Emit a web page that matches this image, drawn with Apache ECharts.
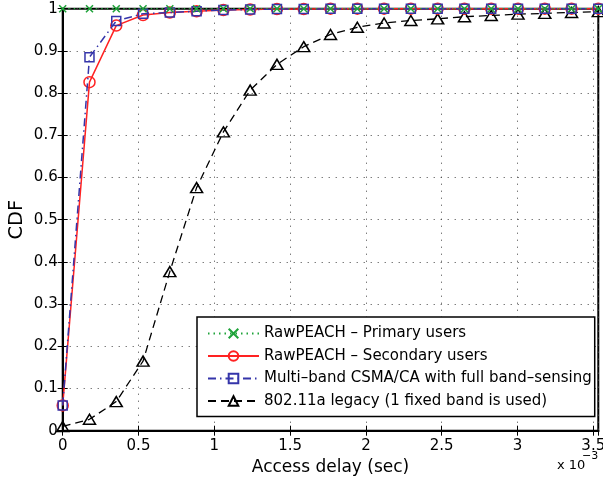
<!DOCTYPE html>
<html>
<head>
<meta charset="utf-8">
<script src="https://cdn.jsdelivr.net/npm/echarts@6/dist/echarts.min.js"></script>
<style>html,body{margin:0;padding:0;background:#fff}#c{width:603px;height:484px}</style>
</head>
<body>
<div id="c"></div>
<script>
// Access delay in units of 1e-3 sec
var xValues = [0, 0.1767, 0.3533, 0.53, 0.7066, 0.8833, 1.06, 1.2366, 1.4133, 1.59, 1.7666, 1.9433, 2.12, 2.2966, 2.4733, 2.65, 2.8266, 3.0033, 3.18, 3.3566, 3.533];
var primaryCDF = [1, 1, 1, 1, 1, 1, 1, 1, 1, 1, 1, 1, 1, 1, 1, 1, 1, 1, 1, 1, 1];
var secondaryCDF = [0.06, 0.826, 0.96, 0.985, 0.991, 0.994, 0.997, 0.998, 0.999, 0.999, 1, 1, 1, 1, 1, 1, 1, 1, 1, 1, 1];
var multibandCDF = [0.06, 0.885, 0.971, 0.988, 0.991, 0.994, 0.997, 0.998, 0.999, 0.999, 1, 1, 1, 1, 1, 1, 1, 1, 1, 1, 1];
var legacyCDF = [0.01, 0.027, 0.069, 0.165, 0.377, 0.576, 0.708, 0.807, 0.868, 0.91, 0.939, 0.956, 0.966, 0.972, 0.976, 0.981, 0.984, 0.987, 0.989, 0.991, 0.993];
var seriesNames = ['RawPEACH – Primary users', 'RawPEACH – Secondary users', 'Multi–band CSMA/CA with full band–sensing', '802.11a legacy (1 fixed band is used)'];
var xMin = 0, xMax = 3.533, xStep = 0.5;
var yMin = 0, yMax = 1, yStep = 0.1;

function pairs(ys) { return xValues.map(function (x, i) { return [x, ys[i]]; }); }

var FONT = 'DejaVu Sans';
var chart = echarts.init(document.getElementById('c'), null, { renderer: 'canvas' });
var tickCommon = { show: true, inside: true, length: 5, lineStyle: { color: '#000', width: 1 } };
var gridLine = { show: true, lineStyle: { color: '#444', width: 1, type: [1, 6] } };

chart.setOption({
  animation: false,
  backgroundColor: '#fff',
  grid: { left: 62.7, right: 4.7, top: 8.7, bottom: 53.3, outerBoundsMode: 'none', containLabel: false, show: true, borderColor: '#000', borderWidth: 2, backgroundColor: 'transparent' },
  xAxis: [{
    type: 'value', min: xMin, max: xMax, interval: xStep,
    name: 'Access delay (sec)', nameLocation: 'middle', nameGap: 28.5, nameMoveOverlap: false,
    nameTextStyle: { fontFamily: FONT, fontSize: 17, color: '#000' },
    axisLine: { show: true, lineStyle: { color: '#000', width: 2 } },
    axisTick: tickCommon,
    axisLabel: { fontFamily: FONT, fontSize: 15, color: '#000', margin: 8, showMaxLabel: false },
    splitLine: gridLine
  }, {
    type: 'value', min: xMin, max: xMax, interval: xStep, position: 'top',
    axisLine: { show: true, lineStyle: { color: '#000', width: 2 } },
    axisTick: tickCommon, axisLabel: { show: false }, splitLine: { show: false }
  }],
  yAxis: [{
    type: 'value', min: yMin, max: yMax, interval: yStep,
    name: 'CDF', nameLocation: 'middle', nameGap: 36, nameMoveOverlap: false,
    nameTextStyle: { fontFamily: FONT, fontSize: 19.5, color: '#000' },
    axisLine: { show: true, lineStyle: { color: '#000', width: 2 } },
    axisTick: tickCommon,
    axisLabel: { fontFamily: FONT, fontSize: 15, color: '#000', margin: 5 },
    splitLine: gridLine
  }, {
    type: 'value', min: yMin, max: yMax, interval: yStep, position: 'right',
    axisLine: { show: true, lineStyle: { color: '#000', width: 2 } },
    axisTick: tickCommon, axisLabel: { show: false }, splitLine: { show: false }
  }],
  legend: {
    left: 197, top: 317, orient: 'vertical', selectedMode: false,
    itemWidth: 51, itemHeight: 12, itemGap: 7.5,
    padding: [9, 3, 8, 10],
    backgroundColor: '#fff', borderColor: '#000', borderWidth: 1.5,
    textStyle: { fontFamily: FONT, fontSize: 15, color: '#000' },
    data: seriesNames
  },
  graphic: [
    { type: 'text', x: 557, y: 472.5, style: { text: 'x 10', font: '13px "DejaVu Sans"', fill: '#000', verticalAlign: 'bottom' } },
    { type: 'text', x: 582, y: 461.5, style: { text: '−3', font: '11px "DejaVu Sans"', fill: '#000', verticalAlign: 'bottom' } }
  ],
  series: [{
    name: seriesNames[3], type: 'line', data: pairs(legacyCDF), z: 2,
    symbol: 'triangle', symbolSize: [12, 10],
    itemStyle: { color: 'none', borderColor: '#000', borderWidth: 1.5 },
    lineStyle: { color: '#000', width: 1.3, type: [8, 5] }
  }, {
    name: seriesNames[1], type: 'line', data: pairs(secondaryCDF), z: 3,
    symbol: 'circle', symbolSize: 11,
    itemStyle: { color: 'none', borderColor: '#ff2222', borderWidth: 1.5 },
    lineStyle: { color: '#ff2222', width: 1.5 }
  }, {
    name: seriesNames[2], type: 'line', data: pairs(multibandCDF), z: 4,
    symbol: 'rect', symbolSize: 9,
    itemStyle: { color: 'none', borderColor: '#3535aa', borderWidth: 1.5 },
    lineStyle: { color: '#3535aa', width: 1.5, type: [8, 4, 1.5, 4] }
  }, {
    name: seriesNames[0], type: 'line', data: pairs(primaryCDF), z: 5,
    symbol: 'path://M0,0L10,10M10,0L0,10', symbolSize: 7,
    itemStyle: { color: 'none', borderColor: '#1fa33a', borderWidth: 1.5 },
    lineStyle: { color: '#1fa33a', width: 1.3, type: [1.5, 4] }
  }]
});
</script>
</body>
</html>
